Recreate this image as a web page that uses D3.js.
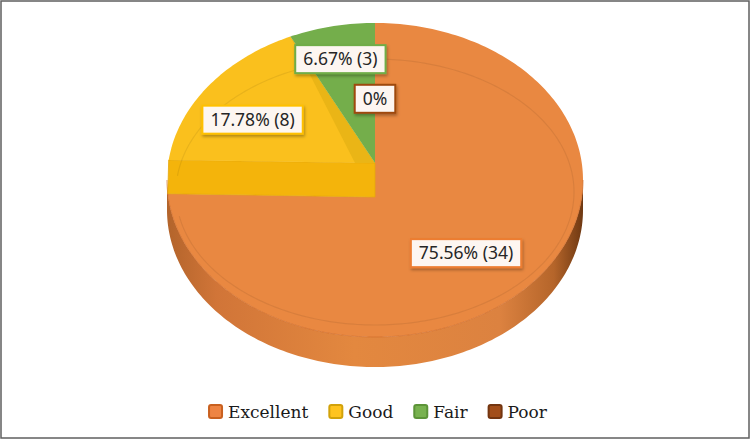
<!doctype html>
<html>

<head>
    <style>
        body {
            margin: 0;
            background: #fff;
        }

        .lbl text {
            font-family: "Noto Sans", sans-serif;
            font-size: 17.5px;
            fill: #262626;
            text-anchor: middle;
        }

        .legend text {
            font-family: "DejaVu Serif", serif;
            font-size: 17px;
            fill: #1a1a1a;
        }
    </style>
    <script src="https://d3js.org/d3.v7.min.js"></script>
</head>

<body>
    <script>
        // data
        const categories = ["Excellent", "Good", "Fair", "Poor"]
        const counts = [34, 8, 3, 0]

        const topColors = ["#E98841", "#FAC01D", "#74AE4B", "#9E480E"]
        const edgeColors = ["#ED7D31", "#FFC000", "#70AD47", "#9E480E"]
        const markerFill = ["#EE8443", "#FFC41F", "#78B24F", "#A24E1A"]
        const markerEdge = ["#C9601F", "#D2A20A", "#5C9438", "#733510"]

        const W = 750, H = 439
        const svg = d3.select("body").append("svg")
            .attr("width", W)
            .attr("height", H)

        const defs = svg.append("defs")
        const grad = defs.append("linearGradient").attr("id", "side")
            .attr("x1", "0%").attr("x2", "100%").attr("y1", "0%").attr("y2", "0%")
        const stops = [[0, "#B3642B"], [0.12, "#D17538"], [0.45, "#E3883F"], [0.8, "#DC8240"], [0.93, "#B5652A"], [1, "#6E3812"]]
        stops.forEach(s => grad.append("stop").attr("offset", s[0]).attr("stop-color", s[1]))

        const shadow = defs.append("filter").attr("id", "shadow")
            .attr("x", "-20%").attr("y", "-30%").attr("width", "150%").attr("height", "180%")
        shadow.append("feDropShadow").attr("dx", 1).attr("dy", 2)
            .attr("stdDeviation", 1.6).attr("flood-color", "#000").attr("flood-opacity", 0.3)

        // frame
        svg.append("rect")
            .attr("x", 1).attr("y", 1).attr("width", W - 2).attr("height", H - 2)
            .attr("fill", "none").attr("stroke", "#5f5f5f").attr("stroke-width", 1.5)

        // pie geometry (ellipse of the top face)
        const cx = 375, cy = 180, rx = 208, ry = 157, depth = 30
        const split = 17 // the 3D render shows the Good radial wall
        const gapE = 7 * Math.PI / 180, gapG = 5.3 * Math.PI / 180

        const xs = d3.scaleLinear().domain([-1, 1]).range([cx - rx, cx + rx])
        const ys = d3.scaleLinear().domain([-1, 1]).range([cy + ry, cy - ry])
        const pt = (a, f = 1, dy = 0) => [xs(f * Math.sin(a)), ys(f * Math.cos(a)) + dy]
        const arcPts = (a0, a1, f = 1, dy = 0) => {
            const n = Math.max(2, Math.ceil(Math.abs(a1 - a0) / 0.02))
            return d3.range(n + 1).map(i => pt(a0 + (a1 - a0) * i / n, f, dy))
        }
        const poly = p => "M" + p.map(d => d.join(",")).join("L") + "Z"

        const slices = d3.pie().sort(null).startAngle(0).endAngle(2 * Math.PI)(counts)
        const [exc, good, fair] = slices

        const g = svg.append("g")

        // side wall (front half)
        const sidePts = arcPts(Math.PI / 2, 3 * Math.PI / 2)
            .concat(arcPts(3 * Math.PI / 2, Math.PI / 2, 1, depth))
        g.append("path").attr("d", poly(sidePts)).attr("fill", "url(#side)")

        const apexE = [cx, cy + split]
        const apexU = [cx, cy - split]

        // Excellent top
        g.append("path")
            .attr("d", poly([apexE].concat(arcPts(exc.startAngle, exc.endAngle - gapE))))
            .attr("fill", topColors[0])
        g.append("path")
            .attr("d", d3.line()(arcPts(Math.PI / 2, 3 * Math.PI / 2)))
            .attr("fill", "none").attr("stroke", "#D06E2C").attr("stroke-width", 1).attr("opacity", 0.7)

        // Good radial wall
        g.append("path")
            .attr("d", poly([pt(good.startAngle + gapG), apexU, apexE, pt(exc.endAngle - gapE)]))
            .attr("fill", "#F4B40B").attr("stroke", "#E6A80A").attr("stroke-width", 0.8)

        // Good top
        g.append("path")
            .attr("d", poly([apexU].concat(arcPts(good.startAngle + gapG, good.endAngle))))
            .attr("fill", topColors[1])
        g.append("path")
            .attr("d", poly([pt(good.endAngle), apexU, [apexU[0] - 20, apexU[1]]]))
            .attr("fill", "#EAB516")

        // Fair top
        g.append("path")
            .attr("d", poly([apexU].concat(arcPts(fair.startAngle, fair.endAngle))))
            .attr("fill", topColors[2])

        // bevel line on the top face
        const bevel = d3.range(-1.45, 4.55, 0.02).map(a => [cx + (rx - 9) * Math.sin(a), cy + 12 - (ry - 24) * Math.cos(a)])
        g.append("path").attr("d", d3.line()(bevel))
            .attr("fill", "none").attr("stroke", "#000").attr("stroke-opacity", 0.07).attr("stroke-width", 1.2)

        // data labels
        const labelR = [0.63, 0.71, 0.8, 0.53]
        const total = d3.sum(counts)
        slices.forEach((s, i) => {
            const mid = (s.startAngle + s.endAngle) / 2
            const [lx, ly] = pt(mid, labelR[i])
            const pct = (s.data / total * 100).toFixed(2).replace(/\.?0+$/, "")
            const txt = s.data ? `${pct}% (${s.data})` : "0%"
            const lg = svg.append("g").attr("class", "lbl").attr("transform", `translate(${lx},${ly + 2})`)
            const rect = lg.append("rect")
            const t = lg.append("text").attr("y", 6).text(txt)
            const tw = t.node().getComputedTextLength() + 16
            rect.attr("x", -tw / 2).attr("y", -14).attr("width", tw).attr("height", 28)
                .attr("fill", "#FDF6F1").attr("stroke", edgeColors[i]).attr("stroke-width", 2)
                .attr("filter", "url(#shadow)")
        })

        // legend
        const legend = svg.append("g").attr("class", "legend")
        const items = legend.selectAll("g").data(categories).enter().append("g")
        items.append("rect")
            .attr("width", 13).attr("height", 13).attr("rx", 2)
            .attr("y", 405)
            .attr("fill", (d, i) => markerFill[i])
            .attr("stroke", (d, i) => markerEdge[i]).attr("stroke-width", 2)
        items.append("text").attr("x", 19).attr("y", 418).text(d => d)
        const widths = []
        items.each(function () {
            const w = 19 + d3.select(this).select("text").node().getComputedTextLength()
            widths.push(w)
        })
        const totalW = d3.sum(widths) + 21 * (widths.length - 1)
        let x0 = 378 - totalW / 2
        items.attr("transform", (d, i) => {
            const x = x0
            x0 += widths[i] + 21
            return `translate(${x},0)`
        })
    </script>
</body>

</html>
